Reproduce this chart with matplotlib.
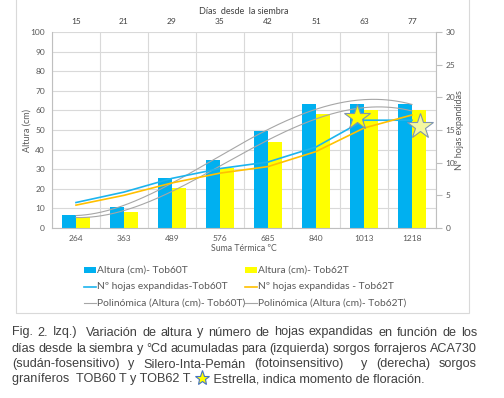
import re
import numpy as np
import matplotlib
matplotlib.use('Agg')
import matplotlib.pyplot as plt
from matplotlib.lines import Line2D
from matplotlib.patches import Rectangle

# ---------------- data ----------------
suma_termica = ['264', '363', '489', '576', '685', '840', '1013', '1218']
dias = ['15', '21', '29', '35', '42', '51', '63', '77']
altura_tob60 = [6.5, 10.5, 25.5, 34.5, 49.5, 63.5, 63.5, 63.5]
altura_tob62 = [5.5, 8.0, 20.5, 30.5, 43.7, 58.0, 60.0, 60.0]
hojas_tob60 = [3.9, 5.5, 7.6, 9.1, 10.1, 12.4, 16.5, 16.5]
hojas_tob62 = [3.5, 5.0, 6.9, 8.4, 9.4, 11.7, 15.3, 17.3]
floracion_cat = ['1013', '1218']
floracion_hojas = [17.0, 15.6]

W, H = 504, 398
CHART_FONT = 'Lato'
CAP_FONT = 'Liberation Sans'
TXT = '#595959'
GRID = '#d9d9d9'

fig = plt.figure(figsize=(W / 100, H / 100), dpi=100)
fig.patch.set_facecolor('white')


def fxy(px, py):
    return px / W, 1 - py / H


# chart border
fig.add_artist(Rectangle(fxy(16, 313), (469 - 16) / W, (313 + 2) / H,
                         transform=fig.transFigure, fill=False,
                         edgecolor=GRID, lw=0.8))

ax = fig.add_axes([52 / W, 1 - 228 / H, 384 / W, 196 / H])
x = np.arange(len(suma_termica))
bw = 0.29
ax.bar(x - bw, altura_tob60, bw, align='edge', color='#00b0f0', zorder=2)
ax.bar(x, altura_tob62, bw, align='edge', color='#ffff00', zorder=2)

# polynomial trend lines (fit of the bar heights)
xs = np.linspace(0, len(x) - 1, 200)
for serie in (altura_tob60, altura_tob62):
    c = np.polyfit(x + 1, serie, 4)
    ax.plot(xs, np.polyval(c, xs + 1), color='#a6a6a6', lw=0.8, zorder=3)

ax.set_xlim(-0.5, len(x) - 0.5)
ax.set_ylim(0, 100)
ax.set_yticks(range(0, 101, 10))
ax.set_xticks(x, suma_termica, fontfamily=CHART_FONT)
ax.set_xticks(np.arange(-0.5, len(x), 1), minor=True)
ax.set_axisbelow(True)
ax.yaxis.grid(True, color=GRID, lw=0.8)
ax.xaxis.grid(True, which='minor', color=GRID, lw=0.8)
ax.tick_params(axis='both', which='both', length=0, labelsize=6, labelcolor=TXT)
ax.tick_params(axis='x', pad=5)
ax.tick_params(axis='y', pad=5)
for lab in ax.get_yticklabels():
    lab.set_fontfamily(CHART_FONT)
for s in ['top', 'right']:
    ax.spines[s].set_visible(False)
for s in ['left', 'bottom']:
    ax.spines[s].set_color('#bfbfbf')
    ax.spines[s].set_linewidth(0.8)

ax.set_ylabel('Altura (cm)', fontsize=6.5, color=TXT, fontfamily=CHART_FONT)
ax.yaxis.set_label_coords((32 - 52) / 384, 0.5)
ax.set_xlabel('Suma Térmica ºC', fontsize=6.3, color=TXT, fontfamily=CHART_FONT)
ax.xaxis.set_label_coords(0.5, -(244 - 228) / 196)

# top axis (days)
sec = ax.secondary_xaxis('top')
sec.set_xticks(x, dias)
sec.tick_params(length=0, labelsize=6, labelcolor='#404040', pad=5)
for lab in sec.get_xticklabels():
    lab.set_fontfamily(CHART_FONT)
sec.spines['top'].set_visible(False)
fig.text(*fxy(244, 12), 'Días  desde  la siembra', fontsize=6.5, color='#404040',
         ha='center', va='center', fontfamily=CHART_FONT)

# secondary y axis (leaves)
ax2 = ax.twinx()
ax2.set_ylim(0, 30)
ax2.set_yticks(range(0, 31, 5))
ax2.tick_params(axis='y', length=4, color='#bfbfbf', width=0.8, labelsize=6,
                labelcolor=TXT, pad=3)
for lab in ax2.get_yticklabels():
    lab.set_fontfamily(CHART_FONT)
for s in ['top', 'left', 'bottom']:
    ax2.spines[s].set_visible(False)
ax2.spines['right'].set_color('#bfbfbf')
ax2.spines['right'].set_linewidth(0.8)
ax2.plot(x, hojas_tob60, color='#1cb4ee', lw=1.2, zorder=4)
ax2.plot(x, hojas_tob62, color='#ffc000', lw=1.2, zorder=4)
ax2.set_ylabel('Nº hojas expandidas', fontsize=6.5, color=TXT,
               fontfamily=CHART_FONT)
ax2.yaxis.set_label_coords(1 + (455 - 436) / 384, 0.5)

# flowering stars
star_off = [-0.15, 0.17]
star_fc = ['#ffff00', '#f4f7a0']
for cat, hv, off, fc in zip(floracion_cat, floracion_hojas, star_off, star_fc):
    i = suma_termica.index(cat)
    ax2.plot([i + off], [hv], marker='*', markersize=19, markerfacecolor=fc,
             markeredgecolor='#7f95b0', markeredgewidth=0.8, zorder=6,
             linestyle='none')

# ---------------- manual legend ----------------
leg_rows = [270, 286.5, 303]
leg_cols = [(84, 97), (244.5, 257.5)]
leg_items = [
    ('rect', '#00b0f0', 'Altura (cm)- Tob60T'),
    ('rect', '#ffff00', 'Altura (cm)- Tob62T'),
    ('line', '#1cb4ee', 'Nº hojas expandidas-Tob60T'),
    ('line', '#ffc000', 'Nº hojas expandidas - Tob62T'),
    ('line', '#a6a6a6', 'Polinómica (Altura (cm)- Tob60T)'),
    ('line', '#a6a6a6', 'Polinómica (Altura (cm)- Tob62T)'),
]
for k, (kind, col, label) in enumerate(leg_items):
    r, c = divmod(k, 2)
    hx, tx = leg_cols[c]
    yy = leg_rows[r]
    if kind == 'rect':
        fig.add_artist(Rectangle(fxy(hx, yy + 2.7), 12 / W, 5.4 / H,
                                 transform=fig.transFigure, color=col, lw=0))
    else:
        fig.add_artist(Line2D([hx / W, (hx + 12) / W], [1 - yy / H] * 2,
                              transform=fig.transFigure, color=col,
                              lw=1.2 if col != '#a6a6a6' else 0.8))
    fig.text(*fxy(tx, yy), label, fontsize=7.4, color=TXT, ha='left',
             va='center', fontfamily=CHART_FONT)

# ---------------- caption (justified) ----------------
CAP = dict(fontsize=9.1, color='#404040', fontfamily=CAP_FONT)
renderer = fig.canvas.get_renderer()
cap_lines = [
    "Fig. 2. Izq.)  Variación de altura y número de hojas expandidas en función de los",
    "días desde la siembra y °Cd acumuladas para (izquierda) sorgos forrajeros ACA730",
    "(sudán-fosensitivo)  y  Silero-Inta-Pemán  (fotoinsensitivo)    y  (derecha)  sorgos",
]
base_y = [335.5, 352, 367.5, 382]
X0, X1 = 12, 477
for line, by in zip(cap_lines, base_y):
    parts = re.split(r'( +)', line)
    words = parts[0::2]
    spaces = [len(s) for s in parts[1::2]]
    texts = [fig.text(0, 1 - by / H, w, ha='left', va='baseline', **CAP) for w in words]
    widths = [t.get_window_extent(renderer).width for t in texts]
    unit = (X1 - X0 - sum(widths)) / sum(spaces)
    xx = X0
    for j, (t, w) in enumerate(zip(texts, widths)):
        t.set_x(xx / W)
        if j < len(spaces):
            xx += w + unit * spaces[j]

t1 = fig.text(X0 / W, 1 - base_y[3] / H, 'graníferos  TOB60 T y TOB62 T.',
              ha='left', va='baseline', **CAP)
w1 = t1.get_window_extent(renderer).width
sx = X0 + w1 + 9
fig.add_artist(Line2D([sx / W], [1 - (base_y[3] - 4) / H], transform=fig.transFigure,
                      marker='*', markersize=11, markerfacecolor='#ffff00',
                      markeredgecolor='#4472c4', markeredgewidth=0.8,
                      linestyle='none'))
fig.text((sx + 8) / W, 1 - base_y[3] / H, ' Estrella, indica momento de floración.',
         ha='left', va='baseline', **CAP)

fig.savefig('out.png', dpi=100, facecolor='white')
